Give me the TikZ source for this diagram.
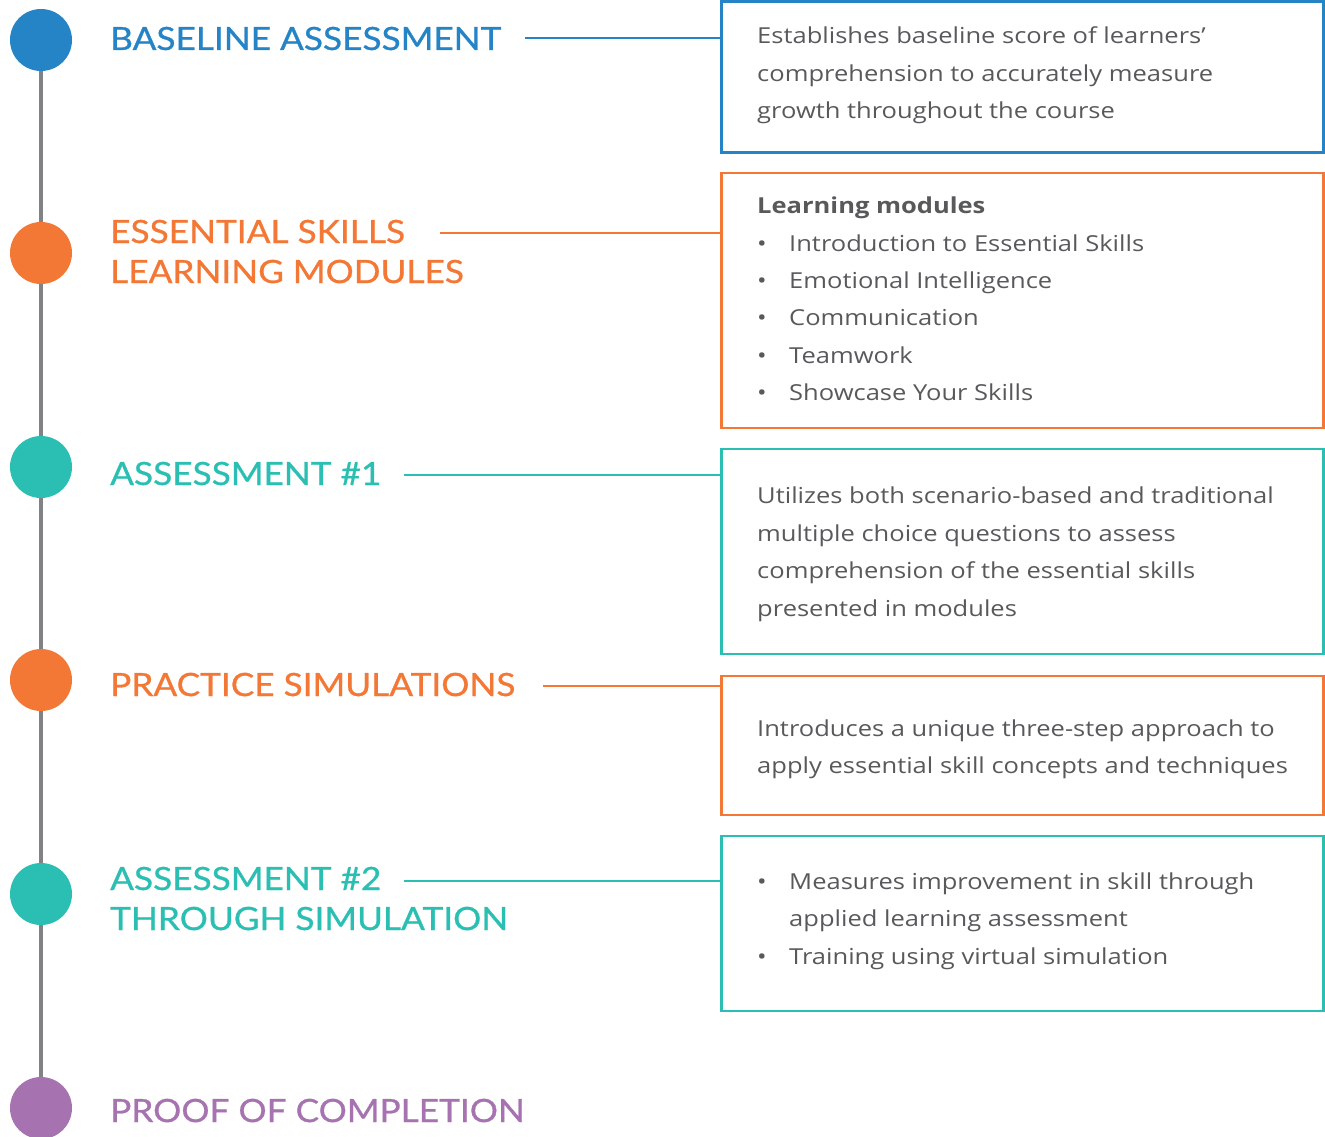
\documentclass[tikz,border=0pt]{standalone}
\usepackage{fontspec}
\setmainfont{Open Sans}[FakeStretch=1.16]
\newfontfamily\headfont{Lato}[FakeStretch=1.10,FakeBold=0.8]
\definecolor{cblue}{HTML}{2484C6}
\definecolor{corange}{HTML}{F37735}
\definecolor{cteal}{HTML}{2BBFB3}
\definecolor{cpurple}{HTML}{A673B0}
\definecolor{cgray}{HTML}{808285}
\definecolor{ctext}{HTML}{58595B}
\begin{document}
\begin{tikzpicture}[x=1pt,y=-1pt,
  dot/.style={circle,fill=#1,minimum size=62pt,inner sep=0pt},
  head/.style={anchor=base west,inner sep=0pt,text=#1,font=\headfont\fontsize{32}{40}\selectfont,align=left},
  body/.style={anchor=base west,inner sep=0pt,text=ctext,font=\fontsize{22}{37.5}\selectfont},
  bul/.style={anchor=base west,inner sep=0pt,text=ctext,font=\fontsize{22}{37.5}\selectfont},
  infobox/.style={draw=#1,line width=2.5pt,inner sep=0pt},
  conn/.style={draw=#1,line width=2pt}]
\useasboundingbox (0,0) rectangle (1325,1137);
% timeline
\coordinate (tltop) at (41,40);
\coordinate (tlbot) at (41,1108);
\draw[cgray,line width=4pt] (tltop) -- (tlbot);
\node[dot=cblue] (d1) at (41,40) {};
\node[dot=corange] (d2) at (41,253) {};
\node[dot=cteal] (d3) at (41,467) {};
\node[dot=corange] (d4) at (41,680) {};
\node[dot=cteal] (d5) at (41,894) {};
\node[dot=cpurple] (d6) at (41,1108) {};
% headings
\node[head=cblue] (h1) at (110,50) {BASELINE ASSESSMENT};
\node[head=corange] (h2) at (110,243) {ESSENTIAL SKILLS};
\node[head=corange] (h2b) at (110,283) {LEARNING MODULES};
\node[head=cteal] (h3) at (110,485) {ASSESSMENT \#1};
\node[head=corange] (h4) at (110,696) {PRACTICE SIMULATIONS};
\node[head=cteal] (h5) at (110,890) {ASSESSMENT \#2};
\node[head=cteal] (h5b) at (110,930) {THROUGH SIMULATION};
\node[head=cpurple] (h6) at (110,1122) {PROOF OF COMPLETION};
% boxes
\node[infobox=cblue,minimum width=602pt,minimum height=151pt] (b1) at (1022.5,77) {};
\node[infobox=corange,minimum width=602pt,minimum height=255pt] (b2) at (1022.5,300.5) {};
\node[infobox=cteal,minimum width=602pt,minimum height=205pt] (b3) at (1022.5,551.5) {};
\node[infobox=corange,minimum width=602pt,minimum height=139pt] (b4) at (1022.5,745.5) {};
\node[infobox=cteal,minimum width=602pt,minimum height=175pt] (b5) at (1022.5,923.5) {};
% connectors
\coordinate (c1) at (525,38);
\coordinate (c2) at (440,233);
\coordinate (c3) at (404,475);
\coordinate (c4) at (543,686);
\coordinate (c5) at (404,881);
\draw[conn=cblue] (c1) -- (b1.west |- c1);
\draw[conn=corange] (c2) -- (b2.west |- c2);
\draw[conn=cteal] (c3) -- (b3.west |- c3);
\draw[conn=corange] (c4) -- (b4.west |- c4);
\draw[conn=cteal] (c5) -- (b5.west |- c5);
% box 1 text
\node[body] (t11) at (757,44) {Establishes baseline score of learners’};
\node[body] (t12) at (757,82) {comprehension to accurately measure};
\node[body] (t13) at (757,119) {growth throughout the course};
% box 2 text
\node[body,font=\bfseries\fontsize{22}{37.5}\selectfont] (t20) at (757,213) {Learning modules};
\foreach \i/\y/\t in {1/251/Introduction to Essential Skills,2/288/Emotional Intelligence,3/325/Communication,4/363/Teamwork,5/400/Showcase Your Skills}{
  \node[bul] (bb2\i) at (757,\y) {•};
  \node[body] (t2\i) at (789,\y) {\t};
}
% box 3 text
\node[body] (t31) at (757,503) {Utilizes both scenario-based and traditional};
\node[body] (t32) at (757,541) {multiple choice questions to assess};
\node[body] (t33) at (757,578) {comprehension of the essential skills};
\node[body] (t34) at (757,616) {presented in modules};
% box 4 text
\node[body] (t41) at (757,736) {Introduces a unique three-step approach to};
\node[body] (t42) at (757,773) {apply essential skill concepts and techniques};
% box 5 text
\node[bul] (bb51) at (757,889) {•};
\node[body] (t51) at (789,889) {Measures improvement in skill through};
\node[body] (t52) at (789,926) {applied learning assessment};
\node[bul] (bb52) at (757,964) {•};
\node[body] (t53) at (789,964) {Training using virtual simulation};
\end{tikzpicture}
\end{document}
